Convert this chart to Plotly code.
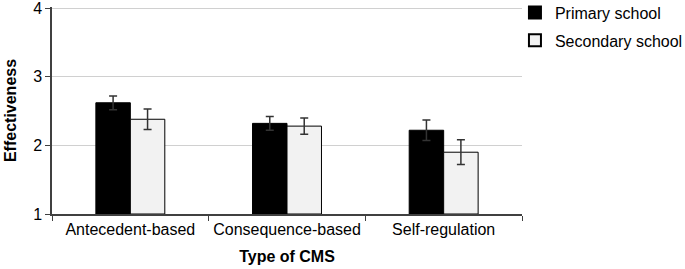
import plotly.graph_objects as go

categories = ["Antecedent-based", "Consequence-based", "Self-regulation"]
primary = [2.62, 2.32, 2.22]
primary_err = [0.10, 0.10, 0.15]
secondary = [2.38, 2.28, 1.90]
secondary_err = [0.15, 0.12, 0.18]
series_names = ["Primary school", "Secondary school"]

fig = go.Figure()
fig.add_trace(go.Bar(
    x=categories, y=[v - 1 for v in primary], base=1, name=series_names[0],
    legendgroup="a",
    marker=dict(color="#000000", line=dict(color="#000000", width=1)),
    error_y=dict(type="data", array=primary_err, color="#333333", thickness=1.5, width=4),
))
fig.add_trace(go.Bar(
    x=categories, y=[v - 1 for v in secondary], base=1, name=series_names[1],
    legendgroup="b",
    marker=dict(color="#f2f2f2", line=dict(color="#000000", width=1)),
    error_y=dict(type="data", array=secondary_err, color="#333333", thickness=1.5, width=4),
))

fig.update_layout(
    width=685, height=269,
    margin=dict(l=52, r=163, t=7, b=55, autoexpand=False),
    paper_bgcolor="white", plot_bgcolor="white",
    barmode="group", bargap=0.56, bargroupgap=0,
    font=dict(family="Liberation Sans, Arial", color="#000000"),
    legend=dict(x=0.985, y=1.055, xanchor="left", yanchor="top",
                font=dict(size=16), itemsizing="constant", tracegroupgap=4,
                traceorder="grouped", bgcolor="rgba(0,0,0,0)"),
    showlegend=True,
)
fig.update_xaxes(
    type="category", tickson="boundaries", ticks="outside", ticklen=5,
    tickcolor="#404040", showline=True, linecolor="#404040", linewidth=1.5,
    tickfont=dict(size=16), tickangle=0, showgrid=False, automargin=False,
    title=dict(text="<b>Type of CMS</b>", font=dict(size=16), standoff=14),
)
fig.update_yaxes(
    range=[1, 4.015], tickvals=[1, 2, 3, 4], ticks="outside", ticklen=5, tickcolor="#404040",
    showline=True, linecolor="#404040", linewidth=1.5,
    showgrid=True, gridcolor="#d0d0d0", gridwidth=1.2,
    tickfont=dict(size=16), zeroline=False, automargin=False,
    ticklabeloverflow="allow",
    title=dict(text="<b>Effectiveness</b>", font=dict(size=16), standoff=13),
)

fig.write_html("out.html", config={"displayModeBar": False},
               post_script="document.body.style.margin='0';")
